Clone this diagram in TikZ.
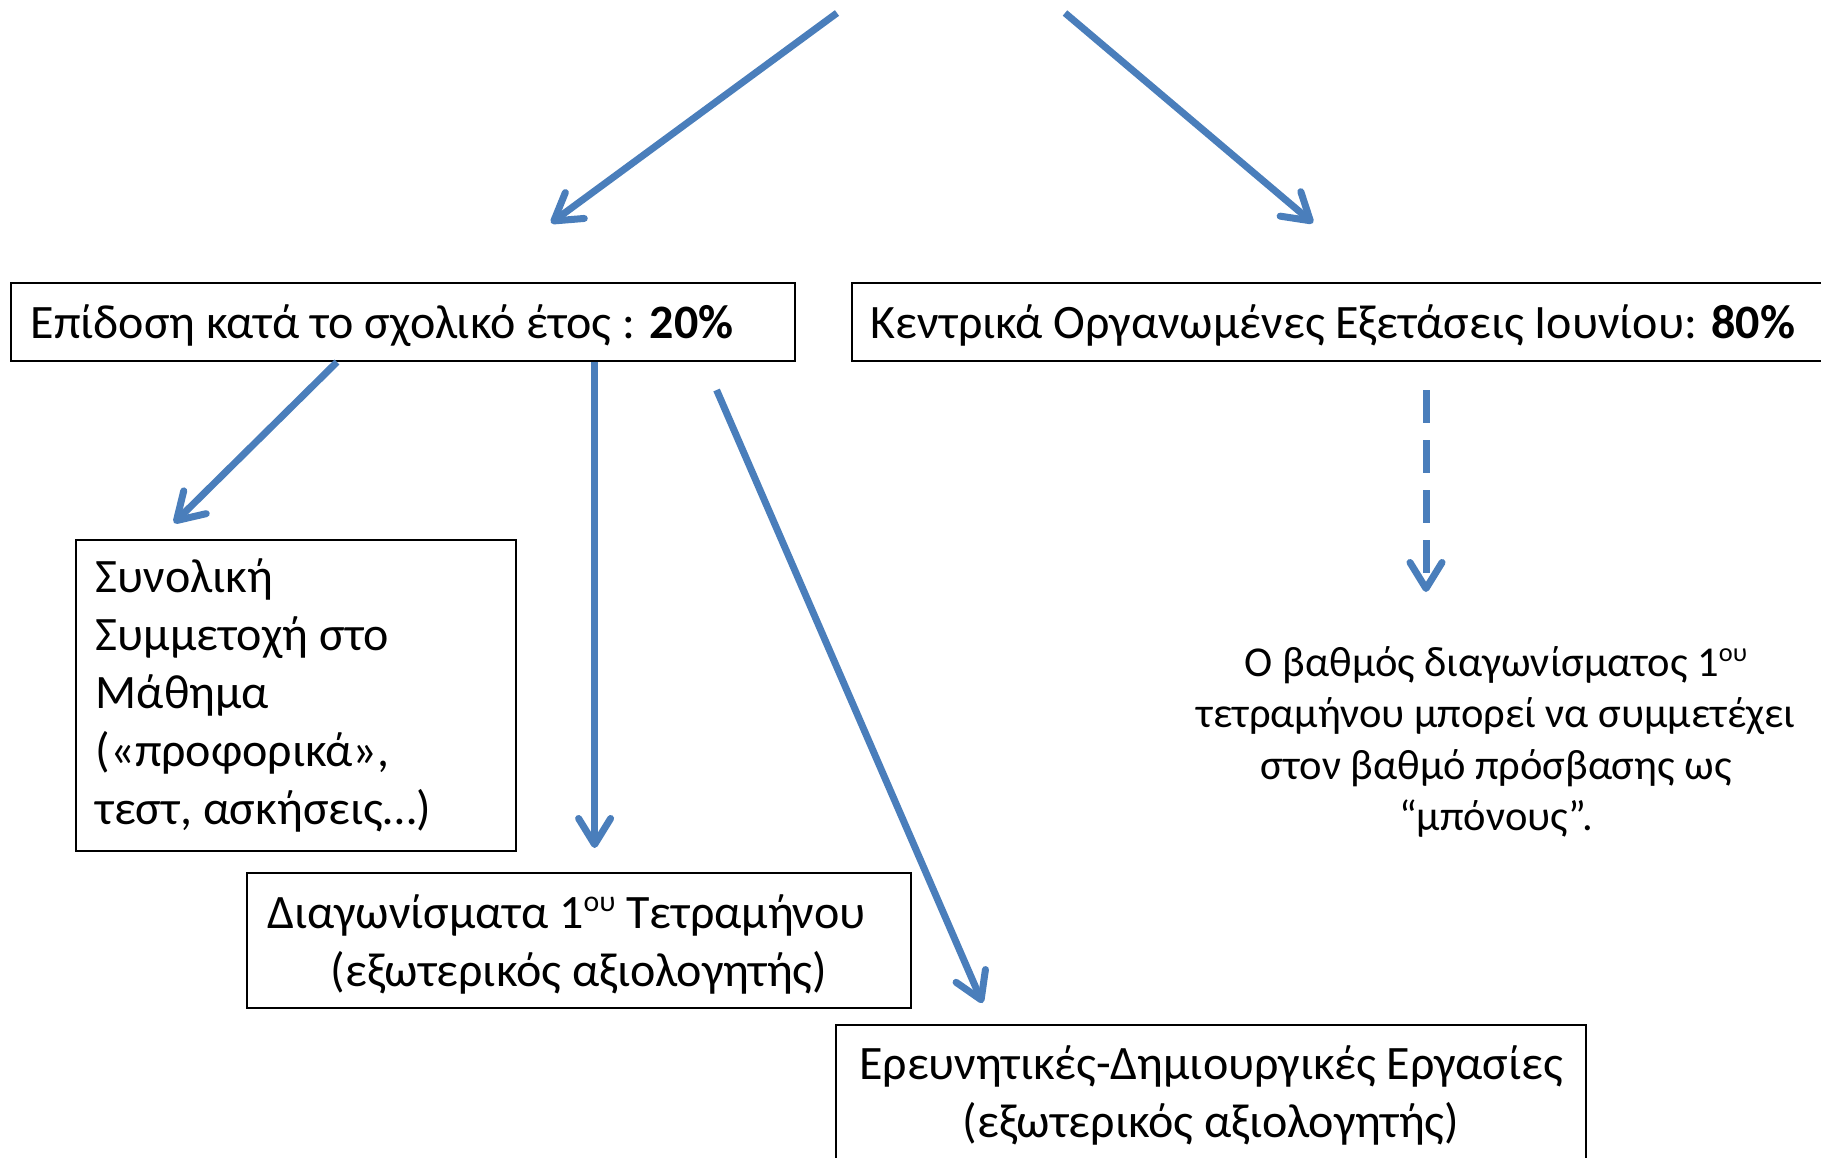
\documentclass[tikz,border=0pt]{standalone}
\usepackage{fontspec}
\usepackage{graphicx}
\setmainfont{Carlito}
\usetikzlibrary{arrows.meta}
\definecolor{arrowblue}{RGB}{74,126,187}
\newcommand\supou{\raisebox{0.36em}{\scalebox{0.62}{ου}}}
\begin{document}
\begin{tikzpicture}[x=0.01cm,y=-0.01cm,
  box/.style={draw=black, line width=0.02cm, inner ysep=0pt},
  conn/.style={draw=arrowblue, line width=0.07cm, -{Straight Barb[length=0.26cm,width=0.32cm,round]}},
  main/.style={font=\fontsize{13.65pt}{16.5pt}\selectfont},
  note/.style={font=\fontsize{12.1pt}{14.6pt}\selectfont}]
\useasboundingbox (0,0) rectangle (1821,1157);
\node[box, main, minimum width=7.83cm, minimum height=0.78cm, text width=7.44cm, inner xsep=0.195cm, text depth=0pt, align=flush left] (perf) at (403,322) {Επίδοση κατά το σχολικό έτος : \textbf{20\%}};
\node[box, main, minimum width=9.83cm, minimum height=0.78cm, text width=9.45cm, inner xsep=0.19cm, text depth=0pt, align=flush left] (exams) at (1343.75,322) {Κεντρικά Οργανωμένες Εξετάσεις Ιουνίου: \textbf{80\%}};
\node[box, main, minimum width=4.39cm, minimum height=3.11cm, text width=4.0cm, inner xsep=0.195cm, align=flush left] (part) at (296,695.5) {Συνολική\\Συμμετοχή στο\\Μάθημα\\(«προφορικά»,\\τεστ, ασκήσεις…)};
\node[box, main, minimum width=6.63cm, minimum height=1.35cm, text width=6.43cm, inner xsep=0.1cm, align=flush center] (tests) at (579,940.7) {\rule{0pt}{0.51cm}Διαγωνίσματα 1\supou{} Τετραμήνου\hspace*{0.25cm}\null\\\strut(εξωτερικός αξιολογητής)};
\node[box, main, anchor=north, text width=7.3cm, inner xsep=0.1cm, inner ysep=0.21cm, align=flush center] (proj) at (1211,1024) {Ερευνητικές-Δημιουργικές Εργασίες\\(εξωτερικός αξιολογητής)};
\node[note, align=flush center] (bonus) at (1496,742) {Ο βαθμός διαγωνίσματος 1\supou\\τετραμήνου μπορεί να συμμετέχει\\στον βαθμό πρόσβασης ως\\“μπόνους”.};
\coordinate (t1) at (837,13);
\coordinate (h1) at (551,223);
\coordinate (t2) at (1065,13);
\coordinate (h2) at (1313,223);
\coordinate (s3) at (337,362);
\coordinate (e3) at (174,523);
\coordinate (s4) at (594.6,362);
\coordinate (e4) at (594.6,848);
\coordinate (s5) at (716.6,390);
\coordinate (e5) at (982.5,1003);
\coordinate (s6) at (1426,390);
\coordinate (e6) at (1426,592);
\draw[conn] (t1) -- (h1);
\draw[conn] (t2) -- (h2);
\draw[conn] (s3) -- (e3);
\draw[conn] (s4) -- (e4);
\draw[conn] (s5) -- (e5);
\draw[conn, dash pattern=on 0.33cm off 0.17cm] (s6) -- (e6);
\end{tikzpicture}
\end{document}
